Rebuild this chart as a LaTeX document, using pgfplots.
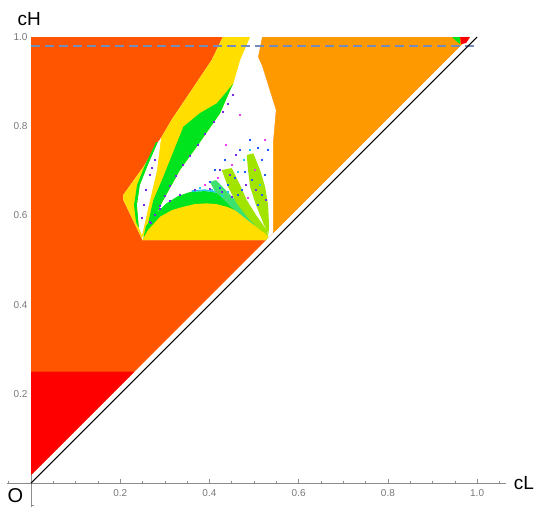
\documentclass[border=0pt]{standalone}
\usepackage{fontspec}
\setmainfont{Liberation Sans}
\usepackage{pgfplots}
\pgfplotsset{compat=1.18}
\definecolor{cOR}{RGB}{255,85,0}
\definecolor{cO}{RGB}{255,153,0}
\definecolor{cR}{RGB}{255,0,0}
\definecolor{cY}{RGB}{255,222,0}
\definecolor{cG}{RGB}{0,228,30}
\definecolor{cLG}{RGB}{160,228,0}
\definecolor{cT}{RGB}{60,225,110}
\definecolor{cCy}{RGB}{40,200,245}
\definecolor{cDash}{RGB}{115,140,185}
\definecolor{cAx}{RGB}{140,140,140}
\definecolor{cTk}{RGB}{120,120,120}
\definecolor{cPu}{RGB}{120,40,230}
\definecolor{cBl}{RGB}{30,90,255}
\definecolor{cMg}{RGB}{240,60,240}
\begin{document}
\begin{tikzpicture}
\begin{axis}[
  x=446pt, y=446pt,
  xmin=-0.054, xmax=1.065, ymin=-0.054, ymax=1.0,
  axis lines=middle,
  axis line style={cAx, line width=0.7pt, -},
  clip=false,
  xtick={0.2,0.4,0.6,0.8,1.0}, ytick={0.2,0.4,0.6,0.8,1.0},
  minor xtick={-0.05,0.05,0.1,0.15,0.25,0.3,0.35,0.45,0.5,0.55,0.65,0.7,0.75,0.85,0.9,0.95,1.05},
  minor ytick={-0.05,0.05,0.1,0.15,0.25,0.3,0.35,0.45,0.5,0.55,0.65,0.7,0.75,0.85,0.9,0.95},
  tick align=inside,
  major tick length=4pt, minor tick length=2.5pt,
  tick style={cAx, line width=0.6pt},
  ticklabel style={font=\fontsize{10}{10}\selectfont, text=cTk},
  xticklabel style={yshift=-3pt},
  /pgf/number format/fixed,
  /pgf/number format/fixed zerofill,
  /pgf/number format/precision=1,
  /pgf/number format/assume math mode=true,
]
% main regions
\addplot[draw=none, fill=cOR] coordinates {(0,0.018) (0,1) (0.982,1)} --cycle;
\addplot[draw=none, fill=cR] coordinates {(0,0.018) (0,0.25) (0.232,0.25)} --cycle;
\addplot[draw=none, fill=cO] coordinates {(0.518,1) (0.509,0.955) (0.518,0.935) (0.549,0.836) (0.543,0.769) (0.543,0.561) (0.982,1)} --cycle;
% central region
\addplot[draw=none, fill=white] coordinates {(0.430,1) (0.405,0.948) (0.315,0.814) (0.289,0.769) (0.252,0.709) (0.207,0.646) (0.207,0.635) (0.248,0.549) (0.249,0.545) (0.527,0.545) (0.543,0.561) (0.543,0.769) (0.549,0.836) (0.518,0.935) (0.509,0.955) (0.518,1)} --cycle;
\addplot[draw=none, fill=cY] coordinates {(0.430,1) (0.491,1) (0.4686,0.948) (0.4536,0.896) (0.450,0.889) (0.4238,0.829) (0.3715,0.754) (0.334,0.702) (0.2966,0.6345) (0.2668,0.5747) (0.258,0.5628) (0.248,0.549) (0.207,0.635) (0.207,0.646) (0.252,0.709) (0.289,0.769) (0.315,0.814) (0.405,0.948)} --cycle;
\addplot[draw=none, fill=cG] coordinates {(0.4536,0.896) (0.450,0.889) (0.4238,0.829) (0.3715,0.754) (0.334,0.702) (0.2966,0.6345) (0.2668,0.5747) (0.2594,0.5695) (0.2742,0.6345) (0.2966,0.6868) (0.3267,0.7617) (0.3415,0.7989) (0.3789,0.8296) (0.4164,0.8513) (0.4417,0.8812)} --cycle;
\addplot[draw=none, fill=cG] coordinates {(0.2848,0.7646) (0.2623,0.7130) (0.2444,0.6682) (0.2377,0.6233) (0.2422,0.5717) (0.2354,0.5852) (0.2309,0.6233) (0.2377,0.6682) (0.2556,0.7130) (0.2803,0.7646)} --cycle;
\addplot[draw=none, fill=white] coordinates {(0.2915,0.7735) (0.2825,0.7018) (0.2668,0.6345) (0.2556,0.5852) (0.2489,0.5561) (0.2422,0.5717) (0.2377,0.6233) (0.2444,0.6682) (0.2623,0.7130) (0.2848,0.7646)} --cycle;
% dome
\addplot[draw=none, fill=cCy] coordinates {(0.36,0.6525) (0.39,0.6547) (0.4126,0.6513) (0.435,0.6435) (0.4574,0.6323) (0.4798,0.6166) (0.4798,0.6206) (0.4574,0.6363) (0.435,0.6475) (0.4126,0.6553) (0.39,0.6585) (0.36,0.6565)} --cycle;
\addplot[draw=none, fill=cG] coordinates {(0.2518,0.5493) (0.2578,0.5762) (0.278,0.6031) (0.3043,0.6278) (0.3296,0.6435) (0.3565,0.6525) (0.3901,0.6547) (0.4126,0.6513) (0.435,0.6435) (0.4574,0.6323) (0.4798,0.6166) (0.5022,0.5987) (0.5202,0.5762) (0.5321,0.5522) (0.527,0.545)} --cycle;
\addplot[draw=none, fill=cY] coordinates {(0.249,0.545) (0.2518,0.5493) (0.2623,0.5673) (0.2892,0.5971) (0.3161,0.6121) (0.3415,0.6195) (0.3677,0.6256) (0.3939,0.6271) (0.4148,0.6256) (0.4388,0.6195) (0.4619,0.6099) (0.4836,0.5971) (0.5022,0.5852) (0.5209,0.5673) (0.5321,0.5522) (0.527,0.545)} --cycle;
% blades
\addplot[draw=none, fill=cT] coordinates {(0.4013,0.6749) (0.4148,0.6794) (0.4574,0.6345) (0.5022,0.5897) (0.5269,0.5605) (0.491,0.5852) (0.4462,0.6211) (0.4103,0.657)} --cycle;
\addplot[draw=none, fill=cLG] coordinates {(0.4276,0.7018) (0.45,0.7063) (0.4686,0.6682) (0.4836,0.6345) (0.5045,0.6009) (0.5285,0.5673) (0.5314,0.5561) (0.5135,0.5673) (0.4865,0.5942) (0.4612,0.6271) (0.4417,0.6637)} --cycle;
\addplot[draw=none, fill=cLG] coordinates {(0.4836,0.7354) (0.4984,0.7392) (0.5135,0.7018) (0.5247,0.6644) (0.5314,0.6233) (0.5336,0.5785) (0.5325,0.5583) (0.5209,0.5823) (0.5045,0.6233) (0.491,0.6644) (0.4865,0.7018)} --cycle;
% scattered points
\addplot[only marks, mark=square*, mark size=0.5pt, cPu] coordinates {(0.4529,0.870) (0.4417,0.8498) (0.4305,0.8318) (0.4103,0.8094) (0.3901,0.7825) (0.3744,0.7578) (0.3565,0.7332) (0.3408,0.713) (0.3251,0.6883) (0.3117,0.6659) (0.3004,0.6435) (0.2892,0.6211) (0.278,0.6009) (0.2691,0.583) (0.2668,0.5852) (0.2892,0.6143) (0.3117,0.6323) (0.3341,0.6457) (0.3677,0.657) (0.4013,0.6592) (0.4283,0.6525) (0.4507,0.6413) (0.2668,0.6906) (0.2578,0.657) (0.2534,0.6233) (0.2489,0.5942) (0.278,0.7242) (0.2713,0.7063) (0.4596,0.7354) (0.5045,0.657) (0.4821,0.6682) (0.4462,0.6906) (0.5269,0.6345) (0.4238,0.7018)};
\addplot[only marks, mark=square*, mark size=0.5pt, cBl] coordinates {(0.4686,0.7466) (0.509,0.7511) (0.5179,0.7242) (0.4798,0.6973) (0.4955,0.6794) (0.4574,0.6839) (0.5179,0.6457) (0.509,0.6233) (0.4731,0.657) (0.4417,0.6682) (0.4126,0.7018) (0.435,0.7242) (0.5247,0.6906) (0.491,0.7691) (0.5314,0.7466) (0.4641,0.6457) (0.4013,0.6749) (0.4238,0.6614)};
\addplot[only marks, mark=square*, mark size=0.5pt, cMg] coordinates {(0.4507,0.713) (0.5022,0.7018) (0.4193,0.6839) (0.4865,0.639) (0.5247,0.7691) (0.3901,0.6682) (0.4686,0.8251) (0.4372,0.7578)};
\addplot[only marks, mark=square*, mark size=0.5pt, cCy] coordinates {(0.4641,0.6973) (0.4417,0.6525) (0.4058,0.657) (0.5135,0.6682) (0.4776,0.7242) (0.4283,0.6435) (0.3789,0.6614) (0.491,0.7466)};
% top right corner
\addplot[draw=none, fill=cG] coordinates {(0.9439,1) (0.9619,1) (0.9619,0.9843) (0.9529,0.991)} --cycle;
\addplot[draw=none, fill=cR] coordinates {(0.9619,1) (0.9843,1) (0.9753,0.9865) (0.9641,0.9843)} --cycle;
% lines
\addplot[cDash, line width=1.2pt, dash pattern=on 9pt off 5pt] coordinates {(0,0.98) (1.002,0.98)};
\addplot[black, line width=1.1pt] coordinates {(0,0) (1,1)};
% labels
\node[font=\fontsize{19}{19}\selectfont] at (axis cs:-0.004,1.04) {cH};
\node[font=\fontsize{19}{19}\selectfont] at (axis cs:1.105,0) {cL};
\node[font=\fontsize{20}{20}\selectfont] at (axis cs:-0.035,-0.028) {O};
\coordinate (bbBL) at (axis cs:-0.0695,-0.056);
\coordinate (bbTR) at (axis cs:1.132,1.083);
\end{axis}
\pgfresetboundingbox
\useasboundingbox (bbBL) rectangle (bbTR);
\end{tikzpicture}
\end{document}
